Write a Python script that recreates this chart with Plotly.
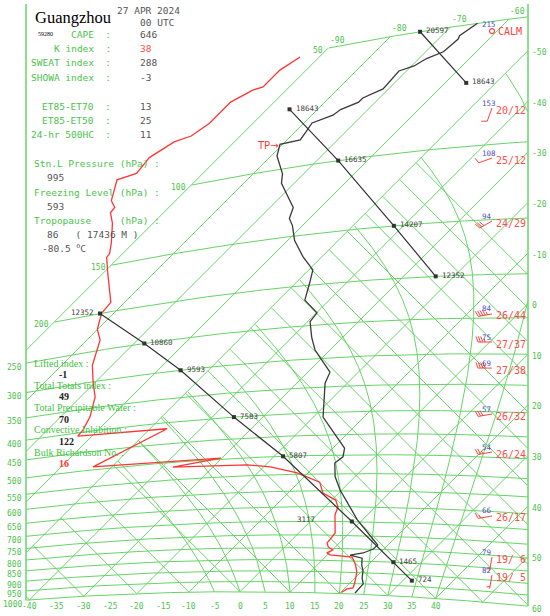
import numpy as np
import plotly.graph_objects as go

# ---------------- data ----------------
station_name = "Guangzhou"
station_id = "59280"
obs_date = "27 APR 2024"
obs_time = "00 UTC"

idx_names = ["CAPE", "K index", "SWEAT index", "SHOWA index"]
idx_values = ["646", "38", "288", "-3"]
et_names = ["ET85-ET70", "ET85-ET50", "24-hr 500HC"]
et_values = ["13", "25", "11"]
stn_pressure = "995"
freezing_level = "593"
tropo_p = 86
tropo_h = 17436
tropo_t = -80.5

stab_names = ["Lifted index :", "Total Totals index :", "Total Precipitable Water :",
              "Convective Inhibition :", "Bulk Richardson No. :"]
stab_values = ["-1", "49", "70", "122", "16"]

# temperature profile (hPa, degC)
temp_p = [995, 975, 950, 923, 892, 867, 838, 827, 817, 800, 784, 694, 598, 559, 521, 505,
          483, 456, 410, 343, 324, 299, 286, 267, 245, 234, 217, 198, 184, 170, 154, 141,
          135, 127, 119, 109, 103, 97, 92, 86, 85.4, 82, 78, 76, 74, 72, 70.5, 68, 62, 61,
          59, 57.5, 54, 53, 50]
temp_t = [23.0, 23.0, 22.8, 21.4, 20.2, 18.8, 17.5, 14.5, 16.7, 17.9, 18.0, 9.0, -0.3, -3.9,
          -6.7, -6.3, -7.7, -11.4, -18.1, -24.4, -25.6, -30.4, -33.0, -36.1, -39.5, -39.9,
          -44.8, -47.2, -49.2, -53.7, -58.6, -62.0, -64.0, -65.4, -68.5, -72.5, -74.2, -76.6,
          -78.8, -80.5, -77.4, -77.8, -78.4, -75.8, -75.4, -73.3, -73.3, -71.1, -71.5, -69.5,
          -68.5, -66.5, -66.1, -66.5, -65.4]
# dew point profile (hPa, degC)
dewp_p = [995, 977, 971, 943, 898, 868, 843, 835, 828, 820, 808, 796, 781, 742, 678, 651,
          629, 607, 574, 546, 527, 519, 513, 497, 492, 414, 408, 395, 368, 329, 302, 272,
          235, 220, 200, 189, 156, 142, 139, 130, 115, 107, 104, 99, 87, 86, 79, 74, 73, 69,
          62, 59.2, 58.8, 54, 51]
dewp_t = [20.2, 20.6, 21.6, 20.8, 19.2, 17.6, 15.9, 15.3, 10.5, 9.5, 10.1, 8.6, 7.6, 7.2,
          3.6, 2.6, 0.8, -3.1, -5.9, -12.2, -18.7, -23.7, -37.9, -30.2, -53.7, -46.6, -62.8,
          -63.0, -64.2, -67.1, -70.3, -73.9, -77.4, -80.0, -82.4, -82.7, -89.3, -92.4, -92.6,
          -94.4, -98.0, -100.5, -100.7, -102.7, -105.7, -103.1, -103.7, -101.9, -99.7, -98.6,
          -98.6, -96.6, -95.2, -95.2, -93.8]

# geopotential heights of standard levels (three plotted segments)
hgt1_p = [925, 850, 700, 500, 400, 300, 250, 200]
hgt1_h = [724, 1465, 3117, 5807, 7583, 9593, 10860, 12352]
hgt2_p = [200, 150, 100, 70]
hgt2_h = [12352, 14207, 16635, 18643]
hgt3_p = [70, 50]
hgt3_h = [18643, 20597]

# winds
wind_p = [52.9, 82.8, 109, 152.8, 247.7, 285.6, 325.6, 409, 492.7, 670.5, 814.5, 886.3]
wind_tag = ["215", "153", "108", "94", "84", "75", "69", "57", "54", "66", "79", "82"]
wind_dir = [0, 20, 25, 24, 26, 27, 27, 26, 26, 26, 19, 19]     # tens of degrees
wind_spd = [0, 12, 12, 29, 44, 37, 38, 32, 24, 17, 6, 5]       # knots

# diagram grid values
isobar_levels = [1000, 950, 900, 850, 800, 750, 700, 650, 600, 550, 500, 450, 400, 350,
                 300, 250, 200, 150, 100, 50]
left_labels = [1000, 950, 900, 850, 800, 750, 700, 650, 600, 550, 500, 450, 400, 350, 300, 250]
upper_labels = [200, 150, 100, 50]
isotherm_vals = list(range(-90, 70, 10))
dry_theta = list(range(-40, 160, 10))
moist_thw = list(range(-5, 45, 5))
bottom_ticks = list(range(-40, 45, 5))
right_ticks = list(range(-50, 70, 10))
top_ticks = [-90, -80, -70, -60]

# ---------------- tephigram projection ----------------
K0 = 273.15
KAPPA = 0.286
SC = 2.53
X0 = 240.0
Y0 = 591.7
XL, XR = 26.0, 528.0


def tephi(T, p):
    T = np.asarray(T, float)
    p = np.asarray(p, float)
    theta = (T + K0) * (1000.0 / p) ** KAPPA
    V = K0 * np.log(theta / K0)
    return X0 + SC * (T + V), Y0 + SC * (T - V)


def t_at_x(x, p):
    lo, hi = -170.0, 130.0
    for _ in range(60):
        mid = 0.5 * (lo + hi)
        if tephi(mid, p)[0] < x:
            lo = mid
        else:
            hi = mid
    return 0.5 * (lo + hi)


def segs(X, Y, ok):
    xs, ys = [], []
    prev = False
    for x, y, o in zip(X, Y, ok):
        if o:
            xs.append(float(x)); ys.append(float(y))
        elif prev:
            xs.append(None); ys.append(None)
        prev = o
    xs.append(None); ys.append(None)
    return xs, ys


gx, gy = [], []

def add(X, Y, ok):
    a, b = segs(X, Y, ok)
    gx.extend(a); gy.extend(b)

# isobars
Tline = np.linspace(-95, 75, 1500)
for p in isobar_levels:
    X, Y = tephi(Tline, p)
    add(X, Y, (X >= XL) & (X <= XR) & (Tline >= -90))
# isotherms
pline = np.geomspace(1000, 50, 900)
for T in isotherm_vals:
    X, Y = tephi(T, pline)
    add(X, Y, (X >= XL) & (X <= XR))
# dry adiabats
for th in dry_theta:
    Ts = np.linspace(th, -50, 500)
    ps = 1000.0 * ((Ts + K0) / (th + K0)) ** (1.0 / KAPPA)
    X, Y = tephi(Ts, ps)
    add(X, Y, (X >= XL) & (X <= XR) & (ps >= 50) & (ps <= 1000))
# moist adiabats
Rd, cp, Lv, eps = 287.04, 1005.7, 2.501e6, 0.622


def dTdp(T, p):
    es = 6.112 * np.exp(17.67 * (T - K0) / (T - K0 + 243.5))
    rs = eps * es / (p - es)
    return (Rd * T + Lv * rs) / ((cp + Lv * Lv * rs * eps / (Rd * T * T)) * p)


pm = np.linspace(1000, 50, 951)
for tw in moist_thw:
    T = tw + K0
    Ts = [T]
    for i in range(1, len(pm)):
        p = pm[i - 1]; dp = pm[i] - p
        k1 = dTdp(T, p)
        k2 = dTdp(T + k1 * dp / 2, p + dp / 2)
        T = T + k2 * dp
        Ts.append(T)
    Tc = np.array(Ts) - K0
    X, Y = tephi(Tc, pm)
    add(X, Y, (X >= XL) & (X <= XR) & (Tc >= -50))

GREEN = "#66d466"
GREEN_T = "#4cc24c"
fig = go.Figure()
fig.add_trace(go.Scatter(x=gx, y=gy, mode="lines", line=dict(color=GREEN, width=1),
                         hoverinfo="skip", showlegend=False))

# frame verticals
yl = float(tephi(t_at_x(XL, 1000), 1000)[1])
yr = float(tephi(t_at_x(XR, 1000), 1000)[1])
fig.add_shape(type="line", x0=XL, x1=XL, y0=4, y1=yl, line=dict(color=GREEN, width=1.5))
fig.add_shape(type="line", x0=XR, x1=XR, y0=4, y1=yr, line=dict(color=GREEN, width=1.5))

# profiles
tx, ty = tephi(temp_t, temp_p)
dx, dy = tephi(dewp_t, dewp_p)
fig.add_trace(go.Scatter(x=dx, y=dy, mode="lines", line=dict(color="#ff3535", width=1.3),
                         hoverinfo="skip", showlegend=False))
fig.add_trace(go.Scatter(x=tx, y=ty, mode="lines", line=dict(color="#3a3a3a", width=1.3),
                         hoverinfo="skip", showlegend=False))

# height lines
LAPSE = 0.00984
ann = []


def T_(x, y, s, size=9, color="#555", family="DejaVu Sans Mono", xa="left", ya="middle"):
    ann.append(dict(x=x, y=y, text=s, showarrow=False, xanchor=xa, yanchor=ya,
                    font=dict(size=size, color=color, family=family)))


label_shift = {(1, 3117): (-35, -2, "right"), (1, 12352): (-4, -1, "right")}
for seg, (ps, hs, off) in enumerate([(hgt1_p, hgt1_h, 38.9), (hgt2_p, hgt2_h, 97.9),
                                     (hgt3_p, hgt3_h, 127.6)], start=1):
    te = [off - LAPSE * h for h in hs]
    hx, hy = tephi(te, ps)
    fig.add_trace(go.Scatter(x=hx, y=hy, mode="lines+markers",
                             line=dict(color="#333", width=1.2),
                             marker=dict(symbol="square", size=4, color="#333"),
                             hoverinfo="skip", showlegend=False))
    for x, y, h in zip(hx, hy, hs):
        dxo, dyo, xa = label_shift.get((seg, h), (4, -1, "left"))
        T_(x + dxo, y + dyo, str(h), size=7.5, color="#444", xa=xa)

# tropopause marker
tpx, tpy = tephi(tropo_t, tropo_p)
T_(float(tpx) + 1, float(tpy) + 1, "TP\u2192", size=10, color="#ff3535",
   family="DejaVu Sans", xa="right")

# axis labels
for t in bottom_ticks:
    x = float(tephi(t, 1000)[0])
    T_(x, 606, str(t), size=8, color=GREEN_T, xa="center")
S = (XR - X0) / SC
for t in right_ticks:
    V = S - t
    y = Y0 + SC * (t - V)
    T_(530, y + 2, str(t), size=8, color=GREEN_T)
for p in left_labels:
    x, y = tephi(t_at_x(XL, p), p)
    T_(24, float(y) + 4, str(p), size=8, color=GREEN_T, xa="right")
for p in upper_labels:
    x, y = tephi(-90, p)
    T_(float(x) - 3, float(y) + 2, str(p), size=8, color=GREEN_T, xa="right")
for t in top_ticks:
    x, y = tephi(t, 50)
    T_(float(x) + 9, float(y) - 8, str(t), size=8, color=GREEN_T, xa="center")

# winds
for p, tag, d, s in zip(wind_p, wind_tag, wind_dir, wind_spd):
    wy = float(tephi(t_at_x(492, p), p)[1])
    T_(480, wy - 7, tag, size=7.5, color="#5050c0")
    if s == 0:
        fig.add_trace(go.Scatter(x=[492], y=[wy], mode="markers",
                                 marker=dict(symbol="circle-open", size=5, color="#ff4040",
                                             line=dict(width=1.2)),
                                 hoverinfo="skip", showlegend=False))
        T_(496, wy, "CALM", size=10, color="#ff4040")
        continue
    th = np.deg2rad(d * 10)
    ux, uy = np.sin(th), -np.cos(th)
    fx, fy = np.sin(th + np.deg2rad(70)), -np.cos(th + np.deg2rad(70))
    sx, sy = 492.0, wy - 2
    L = 14.0
    bx = [sx, sx + ux * L, None]
    by = [sy, sy + uy * L, None]
    n = int(round(s / 5.0))
    full, half = n // 2, n % 2
    pos = L
    for i in range(full):
        px, py = sx + ux * pos, sy + uy * pos
        bx += [px, px + fx * 6, None]; by += [py, py + fy * 6, None]
        pos -= 2.4
    if half:
        if full == 0:
            pos -= 2.4
        px, py = sx + ux * pos, sy + uy * pos
        bx += [px, px + fx * 3.5, None]; by += [py, py + fy * 3.5, None]
    fig.add_trace(go.Scatter(x=bx, y=by, mode="lines", line=dict(color="#ff4040", width=1),
                             hoverinfo="skip", showlegend=False))
    T_(494, wy, "%d/%2d" % (d, s), size=10, color="#ff4d4d")

# text block (upper left)
T_(33, 17, station_name, size=16.5, color="#000", family="Liberation Serif")
T_(115, 10, obs_date, size=9.5, color="#555")
T_(138, 22, obs_time, size=9.5, color="#555")
T_(36, 34, station_id, size=6, color="#000", family="Liberation Serif")
for i, (nm, v) in enumerate(zip(idx_names, idx_values)):
    y = 34 + i * 14.4
    T_(113, y, nm + "  :", size=9.5, color=GREEN_T, xa="right")
    T_(138, y, v, size=9.5, color="#ff4d4d" if nm == "K index" else "#555")
for i, (nm, v) in enumerate(zip(et_names, et_values)):
    y = 106 + i * 14
    T_(113, y, nm + "  :", size=9.5, color=GREEN_T, xa="right")
    T_(138, y, v, size=9.5, color="#555")
T_(32, 163, "Stn.L Pressure (hPa) :", size=9.5, color=GREEN_T)
T_(45, 177, stn_pressure, size=9.5, color="#555")
T_(32, 192, "Freezing Level (hPa) :", size=9.5, color=GREEN_T)
T_(45, 206, freezing_level, size=9.5, color="#555")
T_(32, 220, "Tropopause     (hPa) :", size=9.5, color=GREEN_T)
T_(45, 234, "%d   ( %d M )" % (tropo_p, tropo_h), size=9.5, color="#555")
T_(40, 248, "%.1f <sup>o</sup>C" % tropo_t, size=9.5, color="#555")

# stability block (lower left)
for i, (nm, v) in enumerate(zip(stab_names, stab_values)):
    y = 363 + i * 22.3
    T_(32, y, nm, size=10, color="#3fbf3f", family="Liberation Serif")
    T_(57, y + 11.5, "<b>%s</b>" % v, size=10,
       color="#ff3535" if i == len(stab_names) - 1 else "#222", family="Liberation Serif")

fig.update_layout(
    width=550, height=616, margin=dict(l=0, r=0, t=0, b=0),
    paper_bgcolor="white", plot_bgcolor="white",
    xaxis=dict(range=[0, 550], visible=False, fixedrange=True),
    yaxis=dict(range=[616, 0], visible=False, fixedrange=True),
    annotations=ann, showlegend=False,
)
fig.write_html("out.html", config={"displayModeBar": False},
               post_script="document.body.style.margin='0';"
                           "document.body.style.overflow='hidden';")
